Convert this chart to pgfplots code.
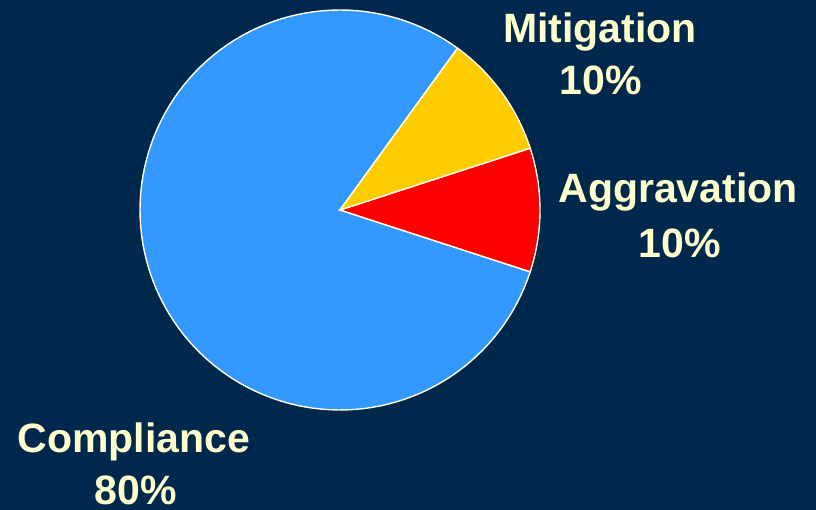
\documentclass[border=0pt]{standalone}
\usepackage{pgfplots}
\pgfplotsset{compat=1.18}
\usepackage{pgfplotstable}
\usepackage{fontspec}
\setmainfont{Liberation Sans}
\definecolor{bg}{RGB}{0,40,77}
\definecolor{txt}{RGB}{255,255,204}
\definecolor{cblue}{RGB}{51,153,255}
\definecolor{cyellow}{RGB}{255,204,0}
\definecolor{cred}{RGB}{255,0,0}
\definecolor{edge}{RGB}{255,255,230}
% slice values (percent)
\def\vAgg{10}
\def\vMit{10}
\def\vCom{80}
\pgfmathsetmacro{\aS}{-18}
\pgfmathsetmacro{\aA}{\aS+3.6*\vAgg}
\pgfmathsetmacro{\aM}{\aA+3.6*\vMit}
\pgfmathsetmacro{\aC}{\aM+3.6*\vCom}
\def\cx{340}
\def\cy{300}
\def\rr{200}
\begin{document}
\begin{tikzpicture}
\begin{axis}[x=1bp,y=1bp,xmin=0,xmax=816,ymin=0,ymax=510,scale only axis,hide axis,clip=false]
\fill[bg] (axis cs:0,0) rectangle (axis cs:816,510);
\addplot[fill=cblue,draw=edge,line width=1.4pt,domain=\aM:\aC,samples=120,variable=\t]
  ({\cx+\rr*cos(t)},{\cy+\rr*sin(t)}) -- (axis cs:\cx,\cy) -- cycle;
\addplot[fill=cred,draw=edge,line width=1.4pt,domain=\aS:\aA,samples=30,variable=\t]
  ({\cx+\rr*cos(t)},{\cy+\rr*sin(t)}) -- (axis cs:\cx,\cy) -- cycle;
\addplot[fill=cyellow,draw=edge,line width=1.4pt,domain=\aA:\aM,samples=30,variable=\t]
  ({\cx+\rr*cos(t)},{\cy+\rr*sin(t)}) -- (axis cs:\cx,\cy) -- cycle;
\begin{scope}[every node/.style={anchor=base,text=txt,font=\fontsize{41bp}{48bp}\selectfont\bfseries,inner sep=0pt}]
\node at (axis cs:600,467) {Mitigation};
\node at (axis cs:601,415) {10\%};
\node at (axis cs:678,307) {Aggravation};
\node at (axis cs:680,252) {10\%};
\node at (axis cs:134,57) {Compliance};
\node at (axis cs:136,5) {80\%};
\end{scope}
\end{axis}
\end{tikzpicture}
\end{document}
